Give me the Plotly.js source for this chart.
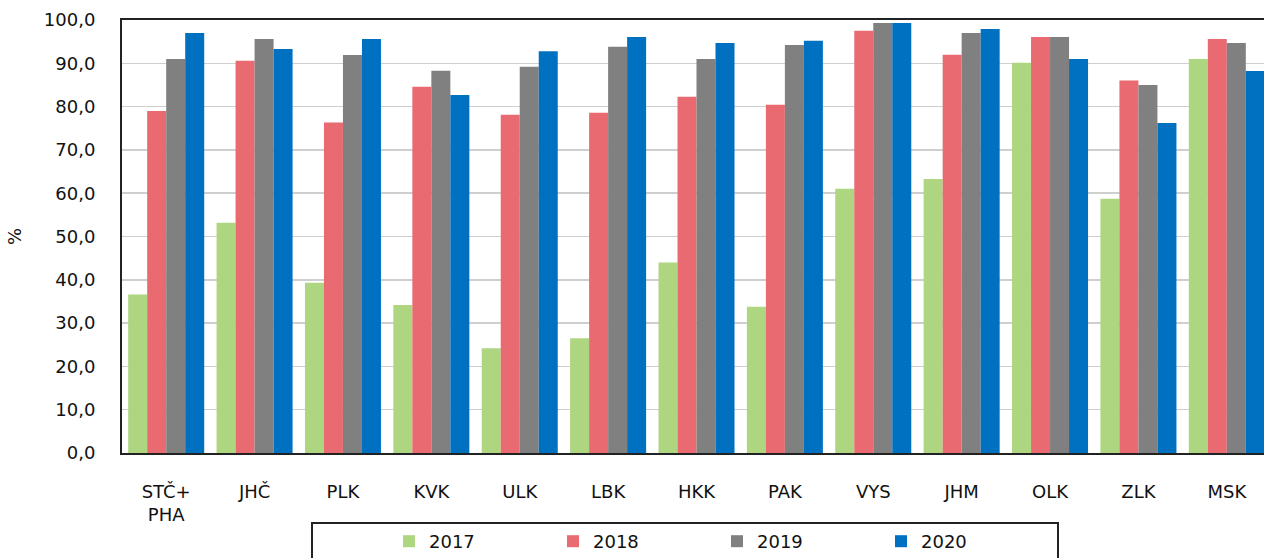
<!DOCTYPE html>
<html>
<head>
<meta charset="utf-8">
<script src="https://cdn.plot.ly/plotly-3.0.1.min.js"></script>
<style>
html,body{margin:0;padding:0;overflow:hidden;background:#fff;}
#chart{width:1280px;height:558px;}
</style>
</head>
<body>
<div id="chart"></div>
<script>
const categories = ["STČ+<br>PHA","JHČ","PLK","KVK","ULK","LBK","HKK","PAK","VYS","JHM","OLK","ZLK","MSK"];
const years = ["2017","2018","2019","2020"];
const v2017 = [36.6,53.2,39.3,34.2,24.2,26.5,44.0,33.8,61.0,63.3,90.1,58.7,91.0];
const v2018 = [79.0,90.6,76.3,84.6,78.1,78.6,82.3,80.4,97.5,92.0,96.1,86.0,95.6];
const v2019 = [91.0,95.6,91.9,88.3,89.2,93.8,91.0,94.2,99.3,97.0,96.1,85.0,94.7];
const v2020 = [97.0,93.3,95.6,82.7,92.8,96.1,94.7,95.2,99.3,97.9,91.0,76.2,88.2];
const colors = ["#AED580","#E96A71","#808080","#0070C0"];
const yTicks = [0,10,20,30,40,50,60,70,80,90,100];

const series = [v2017,v2018,v2019,v2020];
const data = series.map((vals,i)=>({
  type:'bar', name:years[i], x:categories, y:vals,
  marker:{color:colors[i], line:{width:0}},
  hoverinfo:'skip'
}));

const W = 1280, H = 558, plotW = 1149, plotH = 433;
const layout = {
  width:W, height:H,
  margin:{l:122, r:9, t:20, b:105},
  paper_bgcolor:'#fff', plot_bgcolor:'#fff',
  font:{family:'DejaVu Sans, Verdana, sans-serif', size:18, color:'#111'},
  separators:', ',
  barmode:'group', bargap:0.14, bargroupgap:0,
  xaxis:{
    type:'category', range:[-0.5,12.5], automargin:false,
    showline:true, linecolor:'#222', linewidth:2, mirror:true,
    showgrid:false, ticks:'', ticklabelstandoff:21,
    tickfont:{size:18}
  },
  yaxis:{
    range:[0,100], tickvals:yTicks, tickformat:'.1f', automargin:true,
    showline:true, linecolor:'#222', linewidth:2,
    showgrid:true, gridcolor:'#cfcfcf', gridwidth:1.5,
    zeroline:false, ticks:'', ticklabelstandoff:21,
    title:{text:'%', font:{size:18}, standoff:18}
  },
  showlegend:true,
  legend:{
    orientation:'h', xref:'container', yref:'container',
    x:389/W, xanchor:'left',
    y:1-523/H, yanchor:'top',
    font:{size:18}, entrywidth:119, entrywidthmode:'pixels',
    bgcolor:'rgba(0,0,0,0)', borderwidth:0, itemwidth:30
  },
  shapes:[{
    type:'rect', xref:'paper', yref:'paper',
    x0:(312-122)/plotW, x1:(1058-122)/plotW,
    y0:(453-523)/plotH, y1:(453-600)/plotH,
    line:{color:'#222', width:2}, fillcolor:'rgba(0,0,0,0)'
  }]
};
Plotly.newPlot('chart', data, layout, {staticPlot:true, displayModeBar:false});
</script>
</body>
</html>
